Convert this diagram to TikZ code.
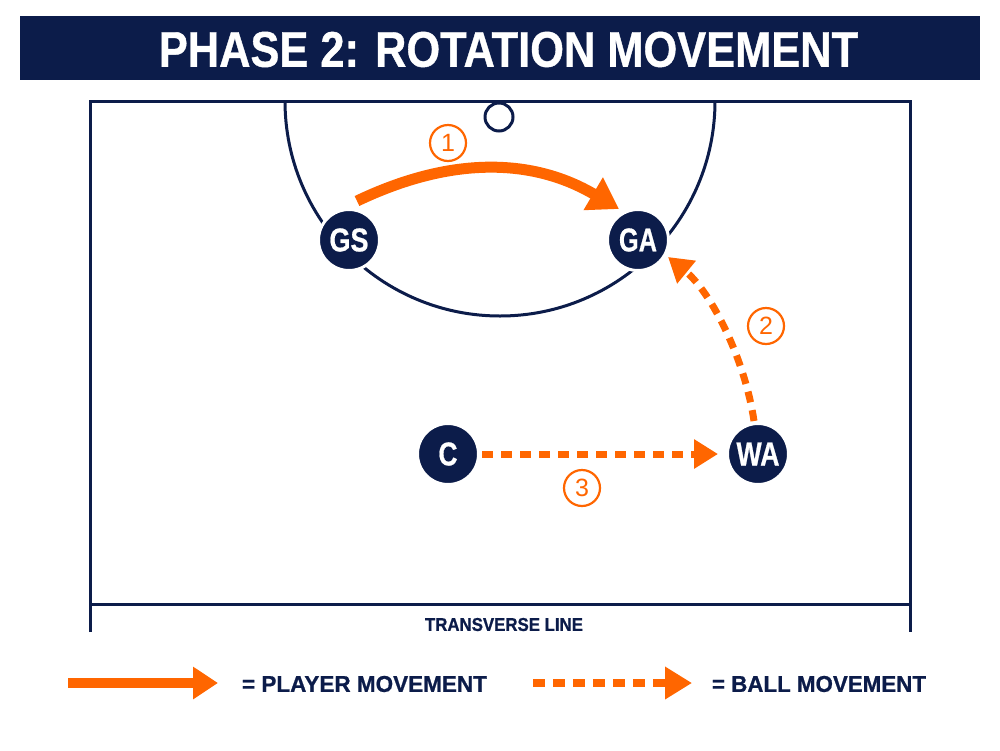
\documentclass[tikz,border=0pt]{standalone}
\usepackage{fontspec}
\usepackage{graphicx}
\setmainfont{Liberation Sans}[BoldFeatures={FakeBold=0.8}]
\usetikzlibrary{arrows.meta}
\definecolor{navy}{RGB}{12,28,74}
\definecolor{orng}{RGB}{255,102,0}
\newcommand{\fitbox}[3]{\resizebox{#1}{#2}{\bfseries #3}}
\begin{document}
\begin{tikzpicture}[x=1pt,y=-1pt,
  courtline/.style={draw=navy,line width=3pt},
  player/.style={circle,fill=navy,draw=white,line width=3pt,minimum size=61pt,inner sep=0pt,text=white},
  numlabel/.style={circle,draw=orng,line width=2.2pt,minimum size=36pt,inner sep=0pt,text=orng,font=\fontsize{25}{25}\selectfont},
  playermove/.style={draw=orng,line width=11pt,-{Triangle[length=30pt,width=36pt]}},
  ballmove/.style={draw=orng,line width=7pt,dash pattern=on 11pt off 8pt,-{Triangle[length=24pt,width=28pt]}},
  legplayer/.style={draw=orng,line width=10pt,-{Triangle[length=25pt,width=31pt]}},
  legball/.style={draw=orng,line width=8pt,dash pattern=on 12pt off 8pt,-{Triangle[length=27pt,width=31pt]}}
]
\useasboundingbox[fill=white] (0,0) rectangle (1000,750);
% title
\node[fill=navy,minimum width=960pt,minimum height=64pt,inner sep=0pt,anchor=north west] (title) at (20,16) {};
\node[text=white,inner sep=0pt] (titletext) at (508.5,49.5) {\fitbox{699pt}{35pt}{PHASE 2: ROTATION MOVEMENT}};
% court
\coordinate (tl) at (90,101);
\coordinate (tr) at (910,101);
\coordinate (bl) at (90,632);
\coordinate (br) at (910,632);
\coordinate (tvl) at (90,604);
\coordinate (tvr) at (910,604);
\draw[courtline] (bl) -- (tl) -- (tr) -- (br);
\draw[courtline] (tvl) -- (tvr);
\draw[courtline] (285,101) arc[start angle=180,end angle=0,radius=215];
\node[circle,draw=navy,line width=3pt,minimum size=28pt,inner sep=0pt] (ring) at (499,117) {};
\node[text=navy,inner sep=0pt] (tvtext) at (504,624.5) {\fitbox{158pt}{13pt}{TRANSVERSE LINE}};
% players
\node[player] (GS) at (349,240) {\fitbox{39pt}{23pt}{GS}};
\node[player] (GA) at (638,240) {\fitbox{38pt}{23pt}{GA}};
\node[player] (C) at (448,454) {\fitbox{19pt}{23pt}{C}};
\node[player] (WA) at (758,454) {\fitbox{43pt}{23pt}{WA}};
% movements
\draw[playermove] ([shift={(8,-39)}]GS.center) .. controls (449,157) and (531,157) .. ([shift={(-19,-31)}]GA.center);
\draw[ballmove] ([shift={(-4,-33)}]WA.center) .. controls (745,360) and (712,293) .. ([shift={(30,17)}]GA.center);
\draw[ballmove,shorten <=2pt,shorten >=8pt] (C) -- (WA);
% number labels
\node[numlabel] (n1) at (448,143) {1};
\node[numlabel] (n2) at (766,326) {2};
\node[numlabel] (n3) at (582,488) {3};
% legend
\coordinate (legA) at (68,683);
\coordinate (legAend) at (218,683);
\coordinate (legB) at (533,683);
\coordinate (legBend) at (692,683);
\draw[legplayer] (legA) -- (legAend);
\draw[legball] (legB) -- (legBend);
\node[text=navy,inner sep=0pt] (legAtext) at (364.5,684) {\fitbox{245pt}{16pt}{= PLAYER MOVEMENT}};
\node[text=navy,inner sep=0pt] (legBtext) at (819,684) {\fitbox{214pt}{16pt}{= BALL MOVEMENT}};
\end{tikzpicture}
\end{document}
